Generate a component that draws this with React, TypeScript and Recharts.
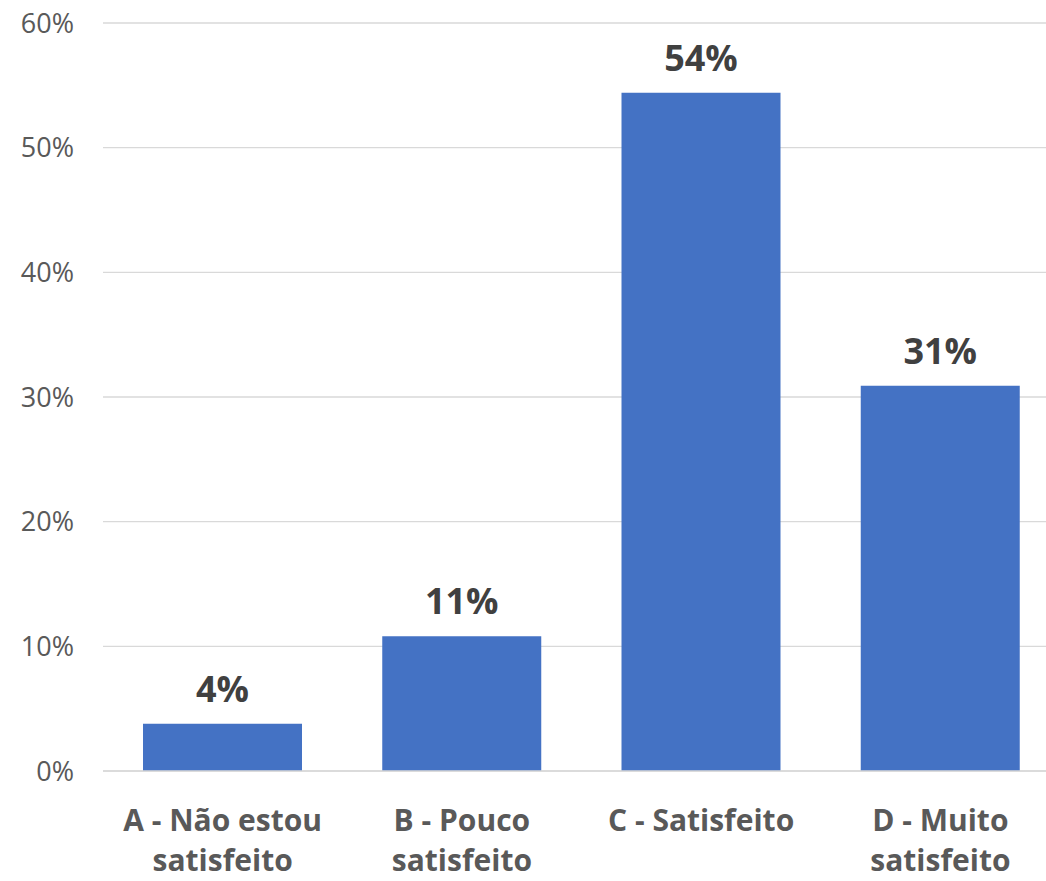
import { BarChart, Bar, XAxis, YAxis, CartesianGrid, LabelList } from 'recharts';

// Satisfaction survey, share of answers per option (percent)
const categories = ['A - Não estou\nsatisfeito', 'B - Pouco\nsatisfeito', 'C - Satisfeito', 'D - Muito\nsatisfeito'];
const shares = [3.8, 10.8, 54.4, 30.9];
const yTicks = [0, 10, 20, 30, 40, 50, 60];

const chartData = categories.map((name, i) => ({ name, value: shares[i] }));

const FONT = '"Open Sans", sans-serif';

// two-line category labels, split on the newline in the name
const CategoryTick = (props: any) => {
  const { x, y, payload } = props;
  const lines = String(payload.value).split('\n');
  return (
    <text
      x={x}
      y={y}
      textAnchor="middle"
      fill="#595959"
      style={{ fontFamily: FONT, fontSize: 30, fontWeight: 700 }}
    >
      {lines.map((line, i) => (
        <tspan key={i} x={x} dy={i === 0 ? 52 : 40}>
          {line}
        </tspan>
      ))}
    </text>
  );
};

export default function App() {
  return (
    <div
      style={{
        position: 'absolute',
        left: 0,
        top: 0,
        width: 1046,
        height: 881,
        overflow: 'hidden',
        background: '#ffffff',
      }}
    >
      <BarChart
        width={1060}
        height={881}
        data={chartData}
        margin={{ top: 23, right: 0, bottom: 0, left: 0 }}
      >
        <CartesianGrid vertical={false} stroke="#d9d9d9" strokeWidth={1.3} />
        <XAxis
          dataKey="name"
          height={110}
          tickLine={false}
          axisLine={{ stroke: '#d9d9d9', strokeWidth: 1.3 }}
          tick={<CategoryTick />}
          interval={0}
        />
        <YAxis
          width={103}
          domain={[0, 60]}
          ticks={yTicks}
          tickFormatter={(v: number) => `${v}%`}
          axisLine={false}
          tickLine={false}
          tickMargin={23}
          tick={{ fill: '#595959', fontFamily: FONT, fontSize: 27 }}
        />
        <Bar dataKey="value" fill="#4472c4" barSize={159} isAnimationActive={false}>
          <LabelList
            dataKey="value"
            position="top"
            offset={22}
            formatter={(v: any) => `${Math.round(Number(v))}%`}
            style={{ fill: '#404040', fontFamily: FONT, fontSize: 36, fontWeight: 700 }}
          />
        </Bar>
      </BarChart>
    </div>
  );
}
